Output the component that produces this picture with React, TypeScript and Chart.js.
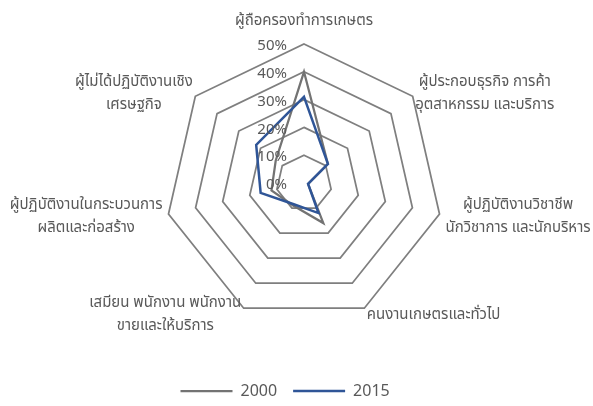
import React, { useEffect, useRef } from "react";
import { Chart, registerables } from "chart.js";

Chart.register(...registerables);

const categories: (string | string[])[] = [
  "ผู้ถือครองทำการเกษตร",
  ["ผู้ประกอบธุรกิจ การค้า", "อุตสาหกรรม และบริการ"],
  ["ผู้ปฏิบัติงานวิชาชีพ", "นักวิชาการ และนักบริหาร"],
  "คนงานเกษตรและทั่วไป",
  ["เสมียน พนักงาน พนักงาน", "ขายและให้บริการ"],
  ["ผู้ปฏิบัติงานในกระบวนการ", "ผลิตและก่อสร้าง"],
  ["ผู้ไม่ได้ปฏิบัติงานเชิง", "เศรษฐกิจ"],
];

const seriesNames = ["2000", "2015"];
const values2000 = [40, 11, 1.5, 16, 9, 12, 13];
const values2015 = [31, 11, 1.5, 12, 8.5, 16, 22];
const tickMin = 0;
const tickMax = 50;
const tickStep = 10;
const tickSuffix = "%";

const THAI_FONT = "'Noto Sans Thai', 'Leelawadee UI', Tahoma, 'Noto Sans', sans-serif";
const NUM_FONT = "'Noto Sans', 'DejaVu Sans', sans-serif";
const TEXT_COLOR = "#595959";

const labelPlugin = {
  id: "customRadarLabels",
  afterDraw(chart: any) {
    const scale = chart.scales.r;
    if (!scale) return;
    const ctx: CanvasRenderingContext2D = chart.ctx;
    ctx.save();
    ctx.fillStyle = TEXT_COLOR;
    ctx.textBaseline = "middle";
    ctx.textAlign = "center";
    ctx.font = `15px ${THAI_FONT}`;
    const lineH = 23;
    const n = categories.length;
    for (let i = 0; i < n; i++) {
      const cat = categories[i];
      const lines = Array.isArray(cat) ? cat : [cat];
      const p = scale.getPointPosition(i, scale.drawingArea);
      const ang = scale.getIndexAngle(i);
      const s = Math.sin(ang);
      const c = Math.cos(ang);
      const w = Math.max(...lines.map((l) => ctx.measureText(l).width));
      const blockH = lines.length * lineH;
      let cx: number;
      let cy: number;
      if (Math.abs(s) < 0.01) {
        cx = p.x;
        cy = c > 0 ? p.y - 22 : p.y + 22;
      } else {
        const gap = Math.abs(s) > 0.9 ? 6 : 2.5;
        cx = s > 0 ? p.x + gap + w / 2 : p.x - gap - w / 2;
        cy = p.y + 1.9 - 6.2 * c;
      }
      lines.forEach((l, k) => {
        ctx.fillText(l, cx, cy - blockH / 2 + lineH * (k + 0.5));
      });
    }
    // tick labels
    ctx.font = `15px ${NUM_FONT}`;
    ctx.textAlign = "right";
    for (const t of scale.ticks) {
      const d = scale.getDistanceFromCenterForValue(t.value);
      ctx.fillText(`${t.value}${tickSuffix}`, scale.xCenter - 17, scale.yCenter - d + 2);
    }
    ctx.restore();
  },
};

export default function App() {
  const ref = useRef<HTMLCanvasElement | null>(null);
  useEffect(() => {
    if (!ref.current) return;
    const chart = new Chart(ref.current, {
      type: "radar",
      data: {
        labels: categories,
        datasets: [
          {
            label: seriesNames[0],
            data: values2000,
            borderColor: "#737373",
            backgroundColor: "#737373",
            borderWidth: 2.25,
            pointRadius: 0,
            pointHoverRadius: 0,
            fill: false,
            order: 1,
          },
          {
            label: seriesNames[1],
            data: values2015,
            borderColor: "#2f5597",
            backgroundColor: "#2f5597",
            borderWidth: 2.5,
            pointRadius: 0,
            pointHoverRadius: 0,
            fill: false,
            order: 0,
          },
        ],
      },
      options: {
        animation: false,
        responsive: false,
        layout: { padding: { left: 164.5, right: 149.5, top: -8, bottom: -3 } },
        elements: { line: { tension: 0 } },
        scales: {
          r: {
            min: tickMin,
            max: tickMax,
            ticks: { stepSize: tickStep, display: false },
            grid: { color: "#7f7f7f", lineWidth: 1.75 },
            angleLines: { display: false },
            pointLabels: { display: false },
          },
        },
        plugins: {
          tooltip: { enabled: false },
          legend: {
            position: "bottom",
            align: "start",
            labels: {
              usePointStyle: true,
              pointStyle: "line",
              pointStyleWidth: 52,
              color: TEXT_COLOR,
              font: { family: NUM_FONT, size: 16 },
              padding: 16,
              sort: (a: any, b: any) => a.datasetIndex - b.datasetIndex,
            },
          },
        },
      },
      plugins: [labelPlugin],
    });
    return () => chart.destroy();
  }, []);
  return (
    <div style={{ position: "fixed", left: 0, top: 0, width: 593, height: 406, background: "#fff" }}>
      <canvas ref={ref} width={593} height={406} style={{ width: 593, height: 406, display: "block" }} />
    </div>
  );
}
